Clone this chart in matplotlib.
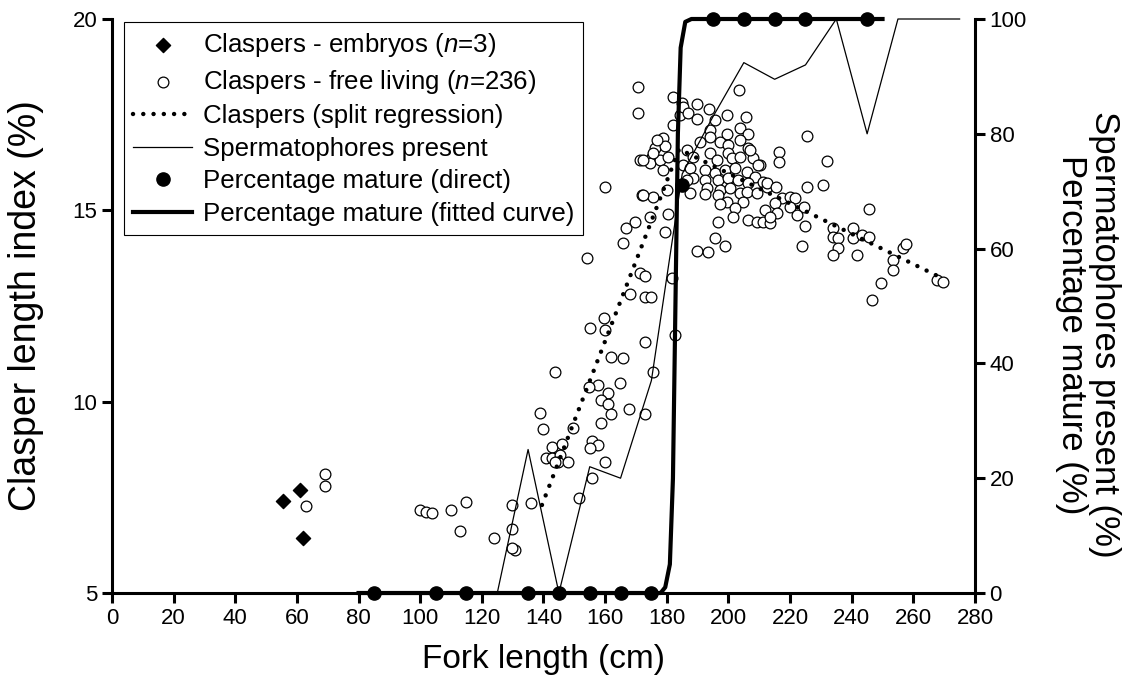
import matplotlib
matplotlib.use('Agg')
import matplotlib.pyplot as plt
from matplotlib.lines import Line2D

plt.rcParams['font.family'] = ['Liberation Sans', 'DejaVu Sans']
plt.rcParams['mathtext.fontset'] = 'custom'
plt.rcParams['mathtext.rm'] = 'Liberation Sans'
plt.rcParams['mathtext.it'] = 'Liberation Sans:italic'

# ---------------- data ----------------
embryo_x = [55.5, 61.0, 62.0]
embryo_y = [7.40, 7.70, 6.45]

free_x = [
    69.1, 69.1, 63.0,
    99.9, 101.9, 103.9, 109.9, 115.0, 112.9, 123.9, 129.7, 129.7, 130.8, 129.7,
    135.8,
    143.7, 139.0, 139.8, 142.9, 145.9, 140.7, 142.7, 145.4, 144.8, 148.1, 149.7, 151.6,
    154.0, 171.3, 172.9, 168.1, 172.9, 174.8, 159.7, 155.1, 160.0, 172.9, 161.8, 165.9,
    175.6, 164.8, 157.8, 154.9, 160.8, 158.7, 161.0, 161.8, 167.8, 172.9, 158.7, 155.6,
    157.8, 155.1, 155.6, 160.0, 143.7,
    181.6, 182.7,
    170.8, 170.8, 160.0, 182.1, 184.8, 184.3, 182.1, 178.9, 176.2, 179.4, 175.1, 171.3,
    174.6, 177.8, 180.5, 178.9, 171.9, 175.6, 180.0, 174.6, 180.5, 169.7, 166.8, 179.4,
    165.7, 176.7, 175.6, 172.4, 172.4,
    185.4, 189.7, 193.8, 187.0, 189.7, 195.6, 199.6, 203.5, 205.7, 194.0, 203.8, 199.4,
    206.5, 190.8, 194.0, 197.3, 200.0, 203.8, 200.0, 206.5, 186.4, 188.6, 194.0, 196.2,
    201.1, 203.8, 208.1, 210.3, 185.4, 187.5, 192.4, 195.6, 198.9, 202.1, 206.0, 208.6,
    188.6, 192.4, 196.7, 200.0, 203.2, 206.5, 211.3, 212.4, 193.0, 197.3, 200.5, 187.5,
    192.4, 196.7, 203.8, 206.0, 209.2, 199.4, 204.8, 197.3, 202.1, 211.9, 196.7, 201.6,
    206.5, 209.2, 211.1, 195.6, 198.9, 189.7, 193.5, 186.4, 207.0, 209.7,
    225.6, 216.5, 216.5, 231.9, 212.6, 215.4, 217.3, 220.0, 221.6, 224.5, 225.4, 230.6,
    215.1, 220.0, 215.7, 222.2, 213.5, 224.9, 223.8, 213.5,
    245.7, 234.0, 234.0, 235.7, 235.7, 234.0, 240.5, 240.5, 243.2, 245.7, 241.6, 253.5,
    253.5, 256.8, 257.6, 249.5, 246.5, 267.6, 269.7,
]
free_y = [
    8.11, 7.80, 7.28,
    7.17, 7.12, 7.09, 7.17, 7.39, 6.62, 6.44, 7.29, 6.67, 6.12, 6.17,
    7.35,
    10.77, 9.70, 9.28, 8.81, 8.89, 8.52, 8.52, 8.61, 8.42, 8.42, 9.32, 7.47,
    13.75, 13.37, 13.28, 12.81, 12.73, 12.73, 12.18, 11.92, 11.87, 11.57, 11.17, 11.13,
    10.78, 10.48, 10.44, 10.39, 10.23, 10.04, 9.94, 9.68, 9.82, 9.68, 9.43, 8.98,
    8.87, 8.78, 8.01, 8.43, 8.43,
    13.22, 11.74,
    18.23, 17.55, 15.62, 17.97, 17.80, 17.49, 17.23, 16.88, 16.62, 16.68, 16.40, 16.31,
    16.23, 16.31, 16.40, 16.05, 15.40, 15.36, 15.53, 14.83, 14.90, 14.70, 14.55, 14.44,
    14.15, 16.84, 16.49, 16.31, 15.40,
    17.70, 17.77, 17.65, 17.54, 17.38, 17.36, 17.49, 18.14, 17.43, 17.11, 17.14, 16.99,
    16.99, 16.79, 16.92, 16.79, 16.71, 16.84, 16.49, 16.62, 16.58, 16.40, 16.49, 16.31,
    16.36, 16.40, 16.36, 16.18, 16.18, 16.10, 16.05, 15.97, 16.05, 16.10, 16.01, 15.88,
    15.84, 15.79, 15.79, 15.84, 15.79, 15.71, 15.75, 15.62, 15.58, 15.53, 15.58, 15.45,
    15.43, 15.40, 15.45, 15.49, 15.45, 15.23, 15.23, 15.16, 15.05, 15.01, 14.70, 14.83,
    14.75, 14.70, 14.70, 14.27, 14.08, 13.94, 13.90, 15.79, 16.58, 16.18,
    16.94, 16.53, 16.27, 16.30, 15.71, 15.60, 15.31, 15.36, 15.31, 15.09, 15.62, 15.66,
    15.18, 15.09, 14.92, 14.88, 14.68, 14.59, 14.08, 14.83,
    15.03, 14.53, 14.31, 14.27, 14.01, 13.83, 14.53, 14.29, 14.35, 14.31, 13.83, 13.70,
    13.44, 14.01, 14.11, 13.11, 12.66, 13.18, 13.12,
]

regression_x = [139.5, 184.0, 270.0]
regression_y = [7.30, 16.60, 13.20]

sperm_x = [125, 135, 145, 155, 165, 175, 185, 195, 205, 215, 225, 235, 245, 255, 275]
sperm_y = [0, 25, 0, 22, 20, 37, 73, 83, 92.4, 89.5, 92, 100, 80, 100, 100]

mature_x = [85, 105, 115, 135, 145, 155, 165, 175, 185, 195, 205, 215, 225, 245]
mature_y = [0, 0, 0, 0, 0, 0, 0, 0, 71, 100, 100, 100, 100, 100]

fitted_x = [80, 178, 179.5, 181, 182, 182.8, 183.6, 184.5, 186, 188, 250]
fitted_y = [0, 0, 1, 5, 20, 50, 80, 95, 99.5, 100, 100]

x_ticks = list(range(0, 281, 20))
left_ticks = [5, 10, 15, 20]
right_ticks = [0, 20, 40, 60, 80, 100]

labels = ['Claspers - embryos ($n$=3)',
          'Claspers - free living ($n$=236)',
          'Claspers (split regression)',
          'Spermatophores present',
          'Percentage mature (direct)',
          'Percentage mature (fitted curve)']

# ---------------- figure ----------------
W, H = 1127, 693
fig = plt.figure(figsize=(W / 100, H / 100), dpi=100)
ax1 = fig.add_axes([112 / W, 1 - 593 / H, (975 - 112) / W, (593 - 19) / H])
ax2 = ax1.twinx()

h_free = ax1.scatter(free_x, free_y, s=60, facecolors='white', edgecolors='black',
                     linewidths=0.9, zorder=3, clip_on=False)
h_emb = ax1.scatter(embryo_x, embryo_y, marker='D', s=52, color='black', zorder=3)
h_reg, = ax1.plot(regression_x, regression_y, color='black', lw=3.2,
                  ls=(0, (0.01, 2.3)), dash_capstyle='round', zorder=4)

h_sperm, = ax2.plot(sperm_x, sperm_y, color='black', lw=0.9, clip_on=False, zorder=2)
h_fit, = ax2.plot(fitted_x, fitted_y, color='black', lw=3.0, clip_on=False, zorder=3)
h_dir, = ax2.plot(mature_x, mature_y, 'o', color='black', ms=9.5, clip_on=False, zorder=4)

ax1.set_xlim(0, 280)
ax1.set_ylim(5, 20)
ax2.set_ylim(0, 100)
ax1.set_xticks(x_ticks)
ax1.set_yticks(left_ticks)
ax2.set_yticks(right_ticks)

for ax in (ax1, ax2):
    ax.spines['top'].set_visible(False)
    for s in ('left', 'right', 'bottom'):
        ax.spines[s].set_linewidth(2.2)
ax1.spines['right'].set_visible(False)
ax2.spines['left'].set_visible(False)
ax2.spines['bottom'].set_visible(False)

ax1.tick_params(axis='both', direction='out', length=7, width=2.2, labelsize=16, pad=3.5)
ax2.tick_params(axis='y', direction='out', length=7, width=2.2, labelsize=16, pad=3.5)

ax1.set_xlabel('Fork length (cm)', fontsize=24, labelpad=11)
ax1.set_ylabel('Clasper length index (%)', fontsize=27)
ax1.yaxis.set_label_coords(-0.079, 0.5)
ax2.set_ylabel('Spermatophores present (%)\nPercentage mature (%)', fontsize=25,
               rotation=270, va='bottom', linespacing=1.0)
ax2.yaxis.set_label_coords(1.093, 0.45)

leg = ax2.legend([h_emb, h_free, h_reg, h_sperm, h_dir, h_fit], labels,
                 loc='upper left', bbox_to_anchor=(12 / 863, 1 - 3 / 574),
                 borderaxespad=0, fontsize=18.6, frameon=True, fancybox=False,
                 edgecolor='black', framealpha=1, handlelength=2.3,
                 handletextpad=0.4, labelspacing=0.33, borderpad=0.35)
leg.get_frame().set_linewidth(0.8)

fig.savefig('out.png', dpi=100)
